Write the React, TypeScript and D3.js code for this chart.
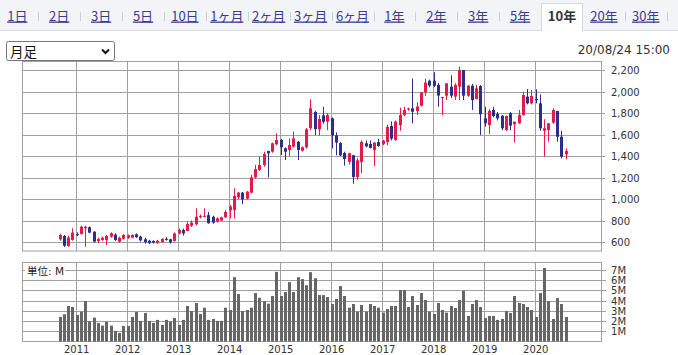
import * as d3 from 'd3';

// monthly candles, Sep 2010 .. Aug 2020
const months = d3.timeMonth.range(new Date(2010, 8, 1), new Date(2020, 8, 1));

const open = [
  625, 656, 563, 619, 672, 674, 727, 737, 696, 609, 619, 619,
  649, 668, 603, 630, 640, 640, 672, 650, 625, 612, 610, 590,
  600, 630, 625, 610, 680, 712, 702, 752, 765, 833, 835, 850,
  835, 790, 800, 830, 895, 898, 1016, 1059, 1003, 1059, 1201, 1270,
  1316, 1446, 1440, 1509, 1549, 1472, 1456, 1487, 1533, 1449, 1481, 1658,
  1810, 1648, 1778, 1719, 1750, 1592, 1520, 1428, 1345, 1407, 1205, 1345,
  1518, 1512, 1456, 1530, 1510, 1530, 1679, 1550, 1688, 1781, 1833, 1843,
  1818, 1868, 1992, 2100, 2100, 2062, 1942, 1961, 2045, 1952, 2045, 2200,
  1961, 2054, 1930, 2051, 1750, 1688, 1828, 1791, 1775, 1642, 1797, 1695,
  1704, 1781, 1952, 1890, 1930, 1890, 1635, 1642, 1710, 1819, 1579, 1415,
];
const close = [
  665, 566, 642, 687, 668, 742, 742, 687, 603, 628, 640, 656,
  681, 619, 640, 665, 662, 665, 645, 615, 600, 590, 595, 612,
  628, 620, 597, 680, 712, 680, 768, 780, 835, 843, 843, 775,
  780, 820, 830, 880, 929, 1028, 1059, 997, 1068, 1201, 1278, 1316,
  1418, 1425, 1518, 1549, 1481, 1440, 1502, 1564, 1456, 1481, 1648, 1844,
  1650, 1745, 1718, 1781, 1592, 1525, 1406, 1372, 1426, 1205, 1360, 1531,
  1490, 1475, 1524, 1493, 1543, 1672, 1562, 1720, 1781, 1828, 1843, 1812,
  1860, 1992, 2083, 2055, 2054, 1962, 1948, 2076, 1961, 2060, 2200, 1961,
  2054, 1921, 2029, 1788, 1704, 1821, 1772, 1750, 1658, 1772, 1682, 1719,
  1781, 1967, 1890, 1958, 1925, 1658, 1658, 1704, 1828, 1579, 1394, 1446,
];
const high = [
  677, 665, 659, 727, 690, 752, 752, 745, 700, 640, 650, 665,
  690, 681, 650, 675, 670, 672, 680, 660, 640, 620, 615, 620,
  635, 645, 630, 690, 725, 725, 790, 800, 913, 855, 913, 880,
  845, 830, 835, 895, 945, 1099, 1065, 1065, 1075, 1223, 1316, 1394,
  1440, 1450, 1525, 1611, 1560, 1480, 1564, 1626, 1540, 1490, 1660, 1927,
  1820, 1780, 1858, 1800, 1760, 1620, 1530, 1440, 1430, 1410, 1380, 1545,
  1545, 1545, 1530, 1560, 1550, 1690, 1720, 1730, 1850, 1858, 1850, 2120,
  1900, 1995, 2119, 2110, 2179, 2080, 1950, 2076, 2151, 2076, 2231, 2200,
  2060, 2070, 2060, 2060, 1858, 1835, 1858, 1810, 1780, 1775, 1810, 1720,
  1828, 1998, 2023, 2014, 2020, 1973, 1742, 1705, 1844, 1820, 1635, 1471,
];
const low = [
  612, 553, 556, 612, 655, 670, 556, 680, 595, 590, 610, 572,
  640, 610, 595, 622, 630, 635, 638, 605, 585, 580, 585, 583,
  595, 612, 585, 605, 670, 660, 700, 740, 755, 820, 830, 770,
  770, 780, 795, 825, 820, 820, 1000, 951, 995, 1050, 1190, 1260,
  1300, 1201, 1430, 1500, 1409, 1363, 1400, 1480, 1363, 1440, 1470, 1640,
  1595, 1590, 1700, 1640, 1470, 1406, 1400, 1310, 1320, 1143, 1180, 1240,
  1480, 1470, 1307, 1485, 1500, 1500, 1545, 1540, 1635, 1770, 1820, 1703,
  1780, 1860, 1960, 2040, 2040, 1858, 1781, 1921, 1940, 1921, 1921, 1921,
  1950, 1828, 1925, 1595, 1673, 1605, 1760, 1730, 1640, 1635, 1640, 1524,
  1700, 1775, 1880, 1880, 1890, 1635, 1394, 1533, 1700, 1533, 1378, 1369,
];
// volume, millions of shares
const volume = [
  2.4, 2.66, 3.47, 3.37, 2.59, 2.91, 3.95, 1.98, 2.33, 1.81, 1.55, 1.94,
  1.55, 1.04, 0.84, 1.52, 1.52, 2.4, 2.88, 2.01, 2.79, 2.01, 1.81, 2.11,
  1.62, 2.11, 1.94, 2.3, 1.62, 2.11, 3.47, 2.98, 3.76, 2.69, 3.3, 2.11,
  2.2, 2.01, 2.01, 3.3, 3.08, 6.28, 4.63, 2.98, 3.08, 3.3, 4.73, 4.27,
  3.95, 3.69, 4.44, 6.8, 4.44, 4.83, 5.8, 4.83, 6.28, 6.09, 5.5, 6.77,
  6.18, 4.53, 4.53, 4.34, 3.66, 4.15, 5.41, 4.44, 3.3, 3.66, 2.91, 3.56,
  2.91, 3.66, 3.47, 3.3, 2.82, 3.17, 3.47, 3.47, 5.02, 5.02, 3.37, 4.44,
  3.56, 4.73, 4.05, 2.91, 2.69, 3.76, 3.08, 2.82, 3.47, 3.27, 4.05, 4.95,
  2.5, 3.66, 4.05, 3.37, 2.3, 2.5, 2.5, 2.11, 2.2, 2.98, 2.79, 4.44,
  3.76, 3.66, 3.37, 3.08, 2.4, 4.73, 7.18, 3.95, 2.2, 4.24, 3.66, 2.4,
];

const yearLabels = ['2011', '2012', '2013', '2014', '2015', '2016', '2017', '2018', '2019', '2020'];
const priceTicks = [600, 800, 1000, 1200, 1400, 1600, 1800, 2000, 2200];
const volumeTicks = [1, 2, 3, 4, 5, 6, 7];
const tabs = ['1日', '2日', '3日', '5日', '10日', '1ヶ月', '2ヶ月', '3ヶ月', '6ヶ月', '1年', '2年', '3年', '5年', '10年', '20年', '30年'];
const activeTab = '10年';

const UP = '#e8194a';
const DOWN = '#2d2d8c';
const GRID = '#a0a0a0';
const LINK = '#3b3b8f';
const AXIS_FONT = '"DejaVu Sans", Verdana, sans-serif';
const JP_FONT = '"Noto Sans CJK JP", sans-serif';

export default function App() {
  const width = 678;
  const height = 355;
  const left = 23;
  const right = 601;
  const main = { top: 61.5, bottom: 251 };
  const vol = { top: 262.5, bottom: 341.5 };

  const x = d3.scaleLinear().domain([0, months.length - 1]).range([59.7, 565.5]);
  const y = d3.scaleLinear().domain([600, 2200]).range([242, 70]);
  const yv = d3.scaleLinear().domain([0, 7]).range([vol.bottom, 269.8]);

  const crisp = (v: number) => Math.round(v) + 0.5;
  const yearIdx = yearLabels.map(yl =>
    months.findIndex(m => m.getFullYear() === +yl && m.getMonth() === 0));

  const tabX = (i: number) => 17.3 + i * 41.9;

  return (
    <svg width={width} height={height}
      style={{ position: 'absolute', left: 0, top: 0, background: '#fff' }}>
      {/* tab bar */}
      <rect x={0} y={0} width={width} height={30} fill="#f3f4f7" />
      <line x1={0} x2={width} y1={30.5} y2={30.5} stroke="#dcdde3" />
      {tabs.map((t, i) => {
        const cx = tabX(i);
        const active = t === activeTab;
        return (
          <g key={t}>
            {active && (
              <path d={`M${cx - 20.5},31 V3.5 H${cx + 20.5} V31`} fill="#fff" stroke="#d6d7dd" />
            )}
            {active && <rect x={cx - 20} y={30} width={40} height={2} fill="#fff" />}
            {!active && i < tabs.length && tabs[i + 1] !== activeTab && (
              <line x1={crisp(cx + 21)} x2={crisp(cx + 21)} y1={12} y2={21} stroke="#cfd0d6" />
            )}
            <text x={cx} y={20.5} textAnchor="middle" fontSize={13} fontFamily={JP_FONT}
              fontWeight={active ? 'bold' : 'normal'} fill={active ? '#333' : LINK}
              textDecoration={active ? 'none' : 'underline'}>
              {t}
            </text>
          </g>
        );
      })}

      <text x={670} y={53.5} textAnchor="end" fontSize={12} fontFamily={AXIS_FONT} fill="#333">
        20/08/24 15:00
      </text>

      {/* price panel */}
      <g>
        {yearIdx.map((idx, i) => (
          <line key={i} x1={crisp(x(idx)) - 1} x2={crisp(x(idx)) - 1} y1={main.top} y2={main.bottom} stroke={GRID} />
        ))}
        {priceTicks.map(t => (
          <g key={t}>
            <line x1={left} x2={right + 4} y1={crisp(y(t))} y2={crisp(y(t))} stroke={GRID} />
            <text x={611} y={y(t) + 4} fontSize={10} fontFamily={AXIS_FONT} fill="#333">
              {d3.format(',')(t)}
            </text>
          </g>
        ))}
        <rect x={left - 0.5} y={main.top} width={right - left + 1} height={main.bottom - main.top}
          fill="none" stroke={GRID} />
        {months.map((m, i) => {
          const o = open[i], c = close[i];
          const color = c >= o ? UP : DOWN;
          const cx = Math.round(x(i));
          const top = y(Math.max(o, c));
          const bottom = y(Math.min(o, c));
          return (
            <g key={i}>
              <line x1={cx + 0.5} x2={cx + 0.5} y1={y(high[i])} y2={y(low[i])} stroke={color} />
              <rect x={cx - 1} y={top} width={3} height={Math.max(1, bottom - top)} fill={color} />
            </g>
          );
        })}
      </g>

      {/* volume panel */}
      <g>
        {yearIdx.map((idx, i) => (
          <g key={i}>
            <line x1={crisp(x(idx)) - 1} x2={crisp(x(idx)) - 1} y1={vol.top} y2={vol.bottom} stroke={GRID} />
            <text x={x(idx)} y={353} textAnchor="middle" fontSize={10} fontFamily={AXIS_FONT} fill="#333">
              {yearLabels[i]}
            </text>
          </g>
        ))}
        {volumeTicks.map(t => (
          <g key={t}>
            <line x1={left} x2={right + 5} y1={crisp(yv(t))} y2={crisp(yv(t))} stroke={GRID} />
            <text x={611} y={yv(t) + 4} fontSize={10} fontFamily={AXIS_FONT} fill="#333">
              {t}M
            </text>
          </g>
        ))}
        <rect x={left - 0.5} y={vol.top} width={right - left + 1} height={vol.bottom - vol.top}
          fill="none" stroke={GRID} />
        {months.map((m, i) => (
          <rect key={i} x={Math.round(x(i)) - 1} y={yv(volume[i])} width={3}
            height={vol.bottom - yv(volume[i])} fill="#666" />
        ))}
        <rect x={25} y={264} width={40} height={13} fill="#fff" />
        <text x={27} y={274.5} fontSize={10.5} fontFamily={`${AXIS_FONT}, ${JP_FONT}`} fill="#222">
          単位: M
        </text>
      </g>

      {/* period select */}
      <g>
        <rect x={6.5} y={41.5} width={108} height={19} rx={2} fill="#fff" stroke="#767676" />
        <text x={10} y={56.5} fontSize={13.5} fontFamily={JP_FONT} fill="#111">月足</text>
        <path d="M102,49.5 L105.5,53 L109,49.5" fill="none" stroke="#111" strokeWidth={2} />
      </g>
    </svg>
  );
}
